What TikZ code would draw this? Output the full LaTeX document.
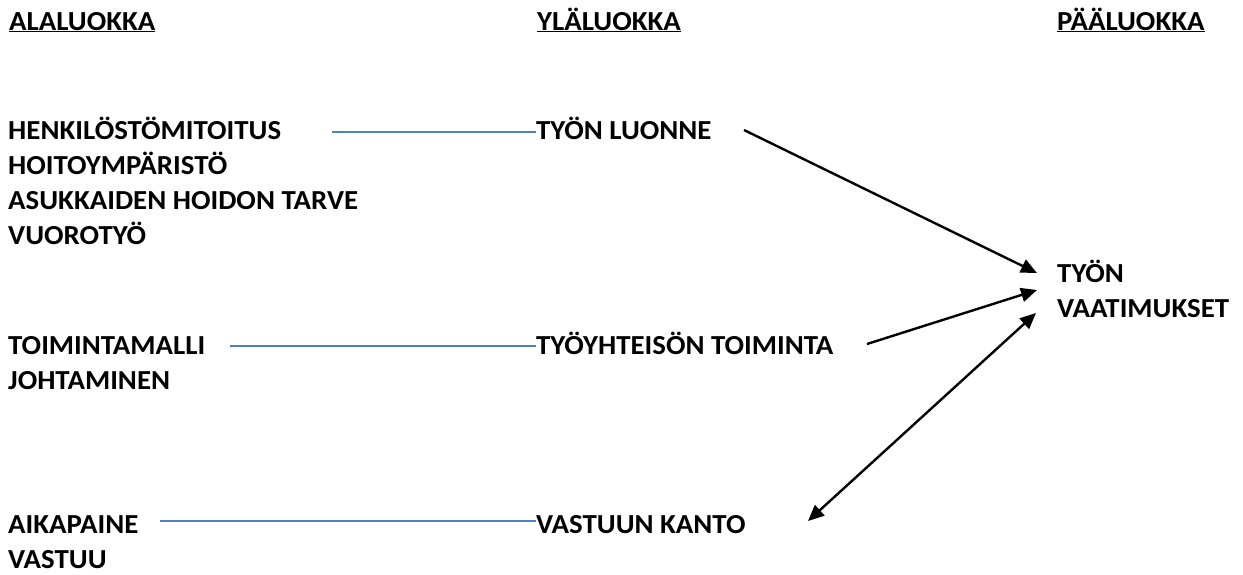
\documentclass[tikz,border=0pt]{standalone}
\usepackage{fontspec}
\setmainfont{Carlito}[FakeStretch=1.05]
\usetikzlibrary{arrows.meta}
\definecolor{linkblue}{RGB}{79,129,189}
\begin{document}
\begin{tikzpicture}[x=1pt,y=-1pt,
  lbl/.style={font=\fontsize{27.5}{33}\selectfont\bfseries, inner sep=0pt, anchor=base west},
  link/.style={draw=linkblue, line width=1.6pt},
  arr/.style={draw=black, line width=2.4pt, -{Triangle[length=16pt,width=14pt]}},
  darr/.style={draw=black, line width=2.4pt, {Triangle[length=16pt,width=14pt]}-{Triangle[length=16pt,width=14pt]}}]
\useasboundingbox (0,0) rectangle (1243,574);
% headers
\node[lbl] (hA) at (9,30) {\underline{ALALUOKKA}};
\node[lbl] (hY) at (537,30) {\underline{YLÄLUOKKA}};
\node[lbl] (hP) at (1057,30) {\underline{PÄÄLUOKKA}};
% group 1
\node[lbl] (a1) at (8,139) {HENKILÖSTÖMITOITUS};
\node[lbl] (a2) at (8,174) {HOITOYMPÄRISTÖ};
\node[lbl] (a3) at (8,209) {ASUKKAIDEN HOIDON TARVE};
\node[lbl] (a4) at (8,244) {VUOROTYÖ};
\node[lbl] (y1) at (536,139) {TYÖN LUONNE};
% group 2
\node[lbl] (b1) at (8,354) {TOIMINTAMALLI};
\node[lbl] (b2) at (8,389) {JOHTAMINEN};
\node[lbl] (y2) at (536,354) {TYÖYHTEISÖN TOIMINTA};
% group 3
\node[lbl] (c1) at (8,533) {AIKAPAINE};
\node[lbl] (c2) at (8,568) {VASTUU};
\node[lbl] (y3) at (536,533) {VASTUUN KANTO};
% main class
\node[lbl] (p1) at (1057,282) {TYÖN};
\node[lbl] (p2) at (1057,317) {VAATIMUKSET};
% blue links
\coordinate (l1) at (332,132);
\coordinate (l2) at (230,346);
\coordinate (l3) at (160,521);
\draw[link] (l1) -- (y1.west |- l1);
\draw[link] (l2) -- (y2.west |- l2);
\draw[link] (l3) -- (y3.west |- l3);
% arrows
\coordinate (s1) at (744,130);
\coordinate (t1) at (1037,273);
\coordinate (s2) at (867,344);
\coordinate (t2) at (1037,290);
\coordinate (s3) at (808,521);
\coordinate (t3) at (1036,313);
\draw[arr] (s1) -- (t1);
\draw[arr] (s2) -- (t2);
\draw[darr] (s3) -- (t3);
\end{tikzpicture}
\end{document}
